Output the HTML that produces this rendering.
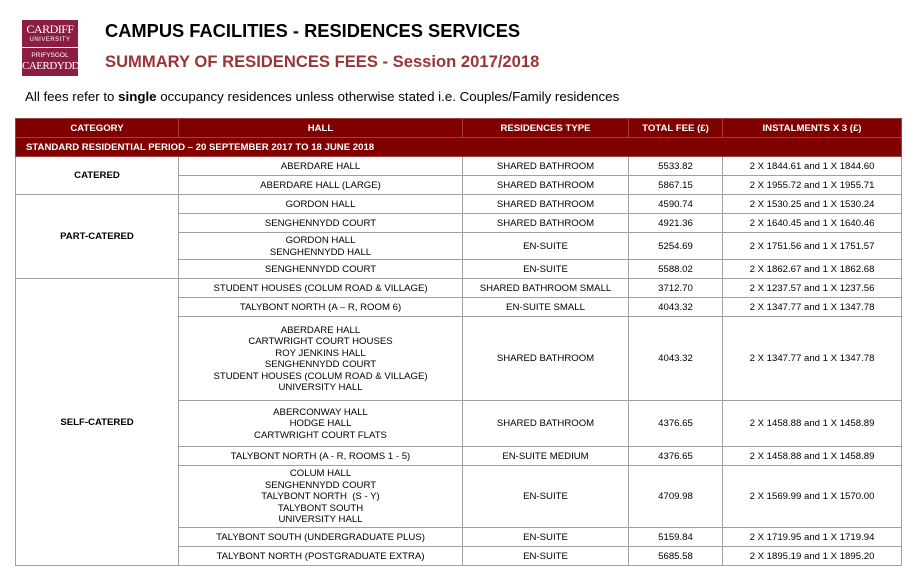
<!DOCTYPE html>
<html><head><meta charset="utf-8"><style>
body{margin:0;width:918px;height:566px;background:#fff;font-family:"Liberation Sans",Arial,sans-serif;position:relative;overflow:hidden;color:#000}
.logo{position:absolute;left:22px;top:20px;width:56px;height:56px;background:#8c1d40;color:#fff;text-align:center;font-family:"Liberation Serif",serif;overflow:hidden}
.t1{position:absolute;left:105px;top:20px;font-size:18.3px;font-weight:bold}
.t2{position:absolute;left:105px;top:52px;font-size:16.6px;font-weight:bold;color:#9b3535}
.t3{position:absolute;left:25px;top:89px;font-size:13.3px}
table{position:absolute;left:15px;top:118px;border-collapse:collapse;table-layout:fixed;width:886px;font-size:9.6px}
td{border:1px solid #a0a0a0;text-align:center;vertical-align:middle;padding:1px 0 0 0;line-height:11.5px}
.h td{background:#800000;color:#fff;font-weight:bold;border-color:#a04040}
.cat{font-weight:bold}
</style></head><body>
<div class="logo">
<div style="font-size:12px;line-height:13px;padding-top:3px;letter-spacing:-0.5px">CARDIFF</div>
<div style="font-size:6px;line-height:8px;font-family:'Liberation Sans',sans-serif;letter-spacing:.5px">UNIVERSITY</div>
<div style="height:1px;background:#fff;margin:3px 0"></div>
<div style="font-size:6.5px;line-height:9px;font-family:'Liberation Sans',sans-serif">PRIFYSGOL</div>
<div style="font-size:11px;line-height:13px;letter-spacing:-0.5px">CAERDYDD</div>
</div>
<div class="t1">CAMPUS FACILITIES - RESIDENCES SERVICES</div>
<div class="t2">SUMMARY OF RESIDENCES FEES - Session 2017/2018</div>
<div class="t3">All fees refer to <b>single</b> occupancy residences unless otherwise stated i.e. Couples/Family residences</div>
<table>
<colgroup><col style="width:163px"><col style="width:284px"><col style="width:166px"><col style="width:94px"><col style="width:179px"></colgroup>
<tr class="h" style="height:19px"><td>CATEGORY</td><td>HALL</td><td>RESIDENCES TYPE</td><td>TOTAL FEE (£)</td><td>INSTALMENTS X 3 (£)</td></tr>
<tr class="h" style="height:19px"><td colspan="5" style="text-align:left;padding-left:10px">STANDARD RESIDENTIAL PERIOD – 20 SEPTEMBER 2017 TO 18 JUNE 2018</td></tr>
<tr style="height:19px"><td rowspan="2" class="cat">CATERED</td><td>ABERDARE HALL</td><td>SHARED BATHROOM</td><td>5533.82</td><td>2 X 1844.61 and 1 X 1844.60</td></tr>
<tr style="height:19px"><td>ABERDARE HALL (LARGE)</td><td>SHARED BATHROOM</td><td>5867.15</td><td>2 X 1955.72 and 1 X 1955.71</td></tr>
<tr style="height:19px"><td rowspan="4" class="cat">PART-CATERED</td><td>GORDON HALL</td><td>SHARED BATHROOM</td><td>4590.74</td><td>2 X 1530.25 and 1 X 1530.24</td></tr>
<tr style="height:19px"><td>SENGHENNYDD COURT</td><td>SHARED BATHROOM</td><td>4921.36</td><td>2 X 1640.45 and 1 X 1640.46</td></tr>
<tr style="height:27px"><td>GORDON HALL<br>SENGHENNYDD HALL</td><td>EN-SUITE</td><td>5254.69</td><td>2 X 1751.56 and 1 X 1751.57</td></tr>
<tr style="height:19px"><td>SENGHENNYDD COURT</td><td>EN-SUITE</td><td>5588.02</td><td>2 X 1862.67 and 1 X 1862.68</td></tr>
<tr style="height:19px"><td rowspan="8" class="cat">SELF-CATERED</td><td>STUDENT HOUSES (COLUM ROAD &amp; VILLAGE)</td><td>SHARED BATHROOM SMALL</td><td>3712.70</td><td>2 X 1237.57 and 1 X 1237.56</td></tr>
<tr style="height:19px"><td>TALYBONT NORTH (A – R, ROOM 6)</td><td>EN-SUITE SMALL</td><td>4043.32</td><td>2 X 1347.77 and 1 X 1347.78</td></tr>
<tr style="height:84px"><td>ABERDARE HALL<br>CARTWRIGHT COURT HOUSES<br>ROY JENKINS HALL<br>SENGHENNYDD COURT<br>STUDENT HOUSES (COLUM ROAD &amp; VILLAGE)<br>UNIVERSITY HALL</td><td>SHARED BATHROOM</td><td>4043.32</td><td>2 X 1347.77 and 1 X 1347.78</td></tr>
<tr style="height:46px"><td>ABERCONWAY HALL<br>HODGE HALL<br>CARTWRIGHT COURT FLATS</td><td>SHARED BATHROOM</td><td>4376.65</td><td>2 X 1458.88 and 1 X 1458.89</td></tr>
<tr style="height:19px"><td>TALYBONT NORTH (A - R, ROOMS 1 - 5)</td><td>EN-SUITE MEDIUM</td><td>4376.65</td><td>2 X 1458.88 and 1 X 1458.89</td></tr>
<tr style="height:62px"><td>COLUM HALL<br>SENGHENNYDD COURT<br>TALYBONT NORTH&nbsp; (S - Y)<br>TALYBONT SOUTH<br>UNIVERSITY HALL</td><td>EN-SUITE</td><td>4709.98</td><td>2 X 1569.99 and 1 X 1570.00</td></tr>
<tr style="height:19px"><td>TALYBONT SOUTH (UNDERGRADUATE PLUS)</td><td>EN-SUITE</td><td>5159.84</td><td>2 X 1719.95 and 1 X 1719.94</td></tr>
<tr style="height:19px"><td>TALYBONT NORTH (POSTGRADUATE EXTRA)</td><td>EN-SUITE</td><td>5685.58</td><td>2 X 1895.19 and 1 X 1895.20</td></tr>
</table>
</body></html>
